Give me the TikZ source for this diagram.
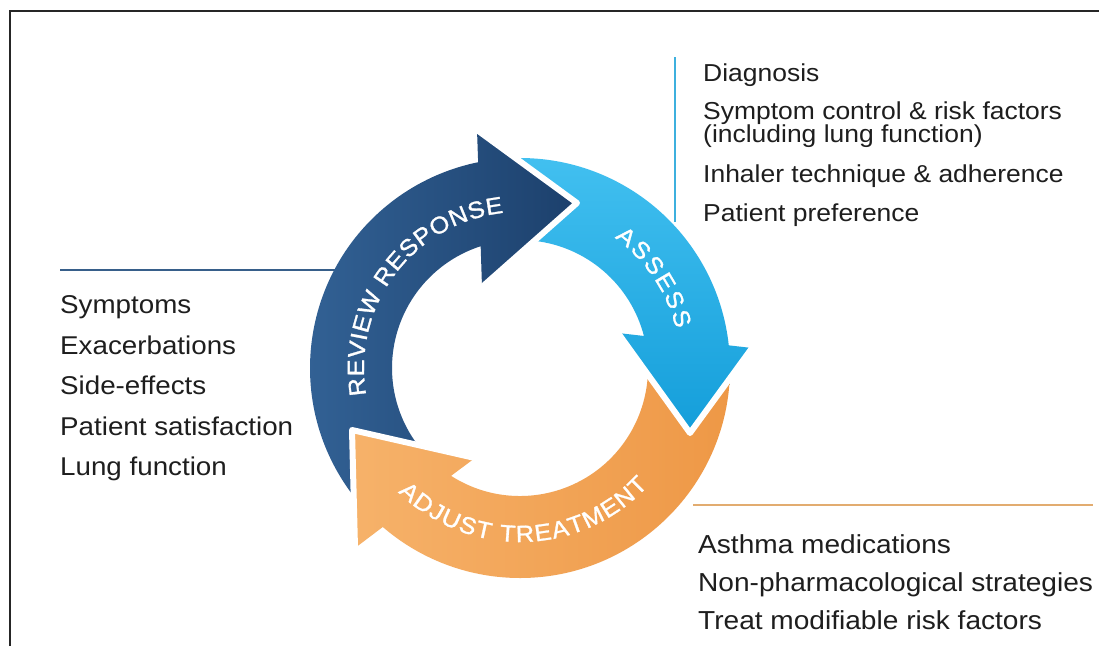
\documentclass[tikz,border=0pt]{standalone}
\usepackage{fontspec}
\setmainfont{Liberation Sans}[FakeStretch=1.08]
\newfontfamily\arcfont{Liberation Sans}[FakeStretch=1.08, FakeBold=1.2]
\usetikzlibrary{calc,decorations.text}
\definecolor{rvA}{RGB}{52,100,152}
\definecolor{rvB}{RGB}{28,64,108}
\definecolor{asA}{RGB}{66,192,240}
\definecolor{asB}{RGB}{20,158,218}
\definecolor{orA}{RGB}{246,178,106}
\definecolor{orB}{RGB}{238,152,70}
\definecolor{txtgray}{RGB}{30,30,30}
\definecolor{lnblue}{RGB}{55,95,138}
\definecolor{lncyan}{RGB}{62,176,222}
\definecolor{lnorange}{RGB}{226,172,112}
\newcommand\reviewshape{($(C)+(142.4:210)$) arc[start angle=142.4, end angle=258.5, radius=210] -- (rvBo) -- (rvT) -- (rvBi) -- ($(C)+(252.1:128)$) arc[start angle=252.1, end angle=143.0, radius=128] -- (orT) -- cycle}
\newcommand\assessshape{($(C)+(268.7:210)$) arc[start angle=268.7, end angle=353.8, radius=210] -- (asBo) -- (asT) -- (asBi) -- ($(C)+(345.5:128)$) arc[start angle=345.5, end angle=276.4, radius=128] -- (rvT) -- cycle}
\newcommand\adjustshape{($(C)+(2.9:210)$) arc[start angle=2.9, end angle=130.8, radius=210] -- (orBo) -- (orT) -- (orBi) -- ($(C)+(122.6:128)$) arc[start angle=122.6, end angle=2.9, radius=128] -- (asT) -- cycle}
\begin{document}
\begin{tikzpicture}[x=1pt,y=-1pt,
  sidetext/.style={anchor=base west, inner sep=0pt, text=txtgray},
  gapline/.style={white, line width=6pt, line join=round, line cap=round},
  arclabel/.style={decorate, decoration={text along path, text align={fit to path}, text color=white, text={|\arcfont\fontsize{23.5}{23.5}\selectfont|#1}}}
]
\useasboundingbox (0,0) rectangle (1099,646);
\fill[white] (0,0) rectangle (1099,646);
\draw[black!85, line width=2.2pt] (10,646) -- (10,11) -- (1099,11);

% key points
\coordinate (C) at (520,368);
\coordinate (rvBo) at (477,130);
\coordinate (rvT) at (577,203);
\coordinate (rvBi) at (482,287);
\coordinate (asBo) at (752,348);
\coordinate (asT) at (690,433);
\coordinate (asBi) at (618,333);
\coordinate (orBo) at (355,548);
\coordinate (orT) at (352,430);
\coordinate (orBi) at (475,458);

% leader lines
\coordinate (lA) at (675,57);
\coordinate (lB) at (675,222);
\coordinate (lC) at (60,270);
\coordinate (lD) at (345,270);
\coordinate (lE) at (693,505);
\coordinate (lF) at (1093,505);
\draw[lncyan, line width=2pt] (lA) -- (lB);
\draw[lnblue, line width=2.5pt] (lC) -- (lD);
\draw[lnorange, line width=2.5pt] (lE) -- (lF);

% cycle arrows
\shade[left color=rvA, right color=rvB] \reviewshape;
\shade[top color=asA, bottom color=asB] \assessshape;
\shade[left color=orA, right color=orB] \adjustshape;
\draw[gapline] (rvBo) -- (rvT) -- (rvBi);
\draw[gapline] (asBo) -- (asT) -- (asBi);
\draw[gapline] (orBo) -- (orT) -- (orBi);

% arc labels
\path[arclabel=REVIEW RESPONSE] ($(C)+(170:156)$) arc[start angle=170, end angle=264, radius=156];
\path[arclabel=ASSESS] ($(C)+(306:161)$) arc[start angle=306, end angle=346, radius=161];
\path[arclabel=ADJUST TREATMENT] ($(C)+(134.5:174)$) arc[start angle=134.5, end angle=42.5, radius=174];

% assess text
\begin{scope}[every node/.style={sidetext, font=\fontsize{24.5}{24.5}\selectfont}]
\node (a1) at (703,81) {Diagnosis};
\node (a2) at (703,119) {Symptom control \& risk factors};
\node (a3) at (703,142) {(including lung function)};
\node (a4) at (703,182) {Inhaler technique \& adherence};
\node (a5) at (703,221) {Patient preference};
\end{scope}
% review text
\begin{scope}[every node/.style={sidetext, font=\fontsize{25.7}{25.7}\selectfont}]
\node (r1) at (60,313) {Symptoms};
\node (r2) at (60,354) {Exacerbations};
\node (r3) at (60,394) {Side-effects};
\node (r4) at (60,435) {Patient satisfaction};
\node (r5) at (60,475) {Lung function};
\end{scope}
% adjust text
\begin{scope}[every node/.style={sidetext, font=\fontsize{26}{26}\selectfont}]
\node (t1) at (698,553) {Asthma medications};
\node (t2) at (698,591) {Non-pharmacological strategies};
\node (t3) at (698,629) {Treat modifiable risk factors};
\end{scope}
\end{tikzpicture}
\end{document}
